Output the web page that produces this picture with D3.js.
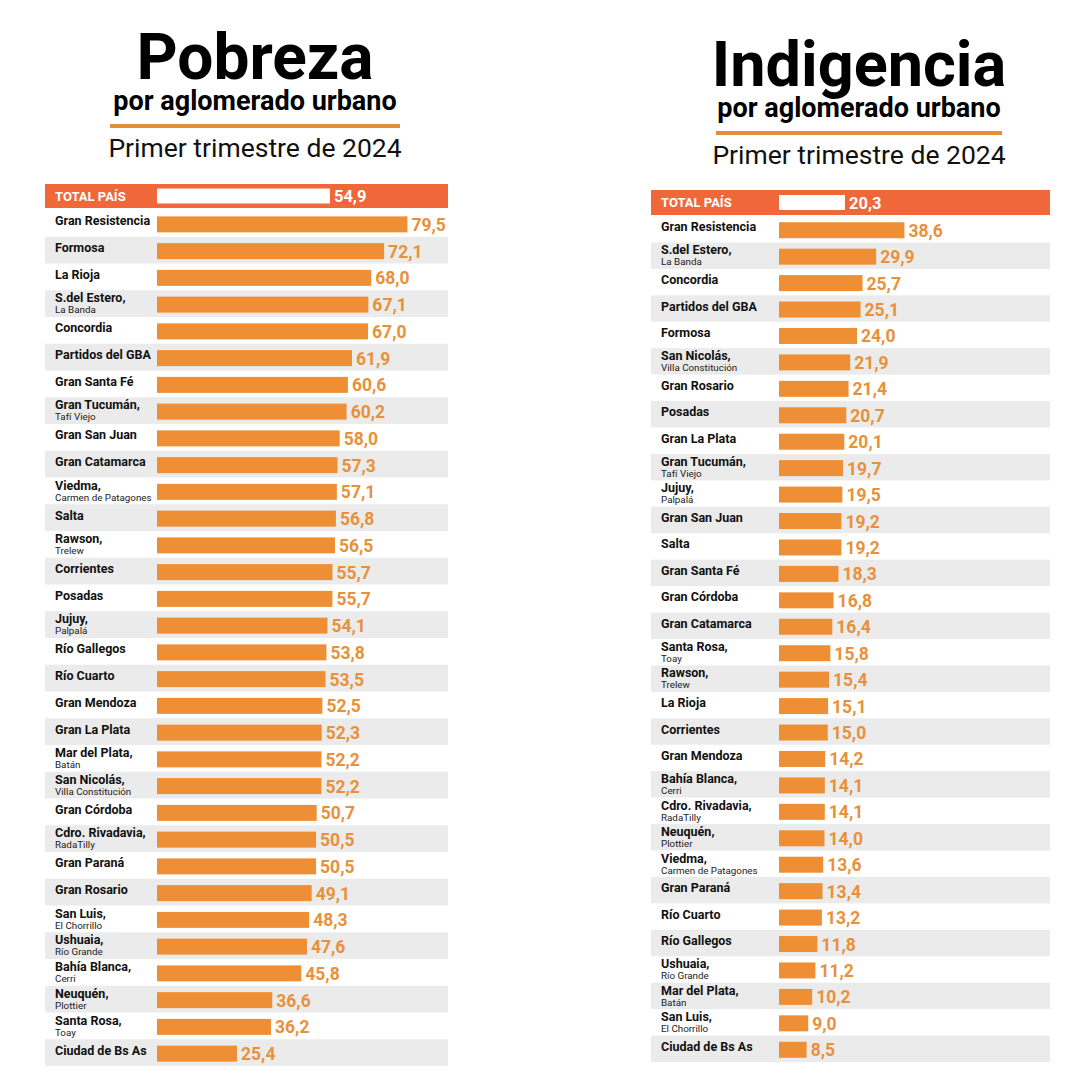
<!DOCTYPE html>
<html>
<head>
<meta charset="utf-8">
<script src="https://cdn.jsdelivr.net/npm/d3@7/dist/d3.min.js"></script>
<style>
  html, body { margin: 0; padding: 0; background: #ffffff; }
  svg { display: block; font-family: Roboto, "Noto Sans", sans-serif; }
</style>
</head>
<body>
<svg id="chart" width="1080" height="1080"></svg>
<script>
// ---------- DATA ----------
const pobrezaTotal = 54.9;
const pobrezaNames = ["Gran Resistencia","Formosa","La Rioja","S.del Estero,","Concordia","Partidos del GBA","Gran Santa Fé","Gran Tucumán,","Gran San Juan","Gran Catamarca","Viedma,","Salta","Rawson,","Corrientes","Posadas","Jujuy,","Río Gallegos","Río Cuarto","Gran Mendoza","Gran La Plata","Mar del Plata,","San Nicolás,","Gran Córdoba","Cdro. Rivadavia,","Gran Paraná","Gran Rosario","San Luis,","Ushuaia,","Bahía Blanca,","Neuquén,","Santa Rosa,","Ciudad de Bs As"];
const pobrezaSub = ["","","","La Banda","","","","Tafí Viejo","","","Carmen de Patagones","","Trelew","","","Palpalá","","","","","Batán","Villa Constitución","","RadaTilly","","","El Chorrillo","Río Grande","Cerri","Plottier","Toay",""];
const pobrezaValues = [79.5,72.1,68.0,67.1,67.0,61.9,60.6,60.2,58.0,57.3,57.1,56.8,56.5,55.7,55.7,54.1,53.8,53.5,52.5,52.3,52.2,52.2,50.7,50.5,50.5,49.1,48.3,47.6,45.8,36.6,36.2,25.4];

const indigenciaTotal = 20.3;
const indigenciaNames = ["Gran Resistencia","S.del Estero,","Concordia","Partidos del GBA","Formosa","San Nicolás,","Gran Rosario","Posadas","Gran La Plata","Gran Tucumán,","Jujuy,","Gran San Juan","Salta","Gran Santa Fé","Gran Córdoba","Gran Catamarca","Santa Rosa,","Rawson,","La Rioja","Corrientes","Gran Mendoza","Bahía Blanca,","Cdro. Rivadavia,","Neuquén,","Viedma,","Gran Paraná","Río Cuarto","Río Gallegos","Ushuaia,","Mar del Plata,","San Luis,","Ciudad de Bs As"];
const indigenciaSub = ["","La Banda","","","","Villa Constitución","","","","Tafí Viejo","Palpalá","","","","","","Toay","Trelew","","","","Cerri","RadaTilly","Plottier","Carmen de Patagones","","","","Río Grande","Batán","El Chorrillo",""];
const indigenciaValues = [38.6,29.9,25.7,25.1,24.0,21.9,21.4,20.7,20.1,19.7,19.5,19.2,19.2,18.3,16.8,16.4,15.8,15.4,15.1,15.0,14.2,14.1,14.1,14.0,13.6,13.4,13.2,11.8,11.2,10.2,9.0,8.5];

const titles = ["Pobreza","Indigencia"];
const subtitle = "por aglomerado urbano";
const period = "Primer trimestre de 2024";
const totalLabel = "TOTAL PAÍS";

// ---------- STYLE ----------
const C = {
  bar: "#ef8f35",
  value: "#e8913a",
  total: "#f0673a",
  stripe: "#ebebeb",
  rule: "#e2913a",
  text: "#111111"
};
const fmt = v => d3.format(".1f")(v).replace(".", ",");

const svg = d3.select("#chart");

function drawPanel(cfg) {
  const g = svg.append("g");
  const cx = (cfg.ruleX0 + cfg.ruleX1) / 2;

  // Titles
  g.append("text").attr("x", cfg.titleX).attr("y", cfg.titleY)
    .attr("text-anchor", "middle").attr("font-size", cfg.titleSize)
    .attr("font-weight", 700).attr("fill", "#000").text(cfg.title);
  g.append("text").attr("x", cx).attr("y", cfg.titleY + 31)
    .attr("text-anchor", "middle").attr("font-size", 27)
    .attr("font-weight", 700).attr("fill", "#000").text(subtitle);
  g.append("rect").attr("x", cfg.ruleX0).attr("y", cfg.titleY + 45)
    .attr("width", cfg.ruleX1 - cfg.ruleX0).attr("height", 4).attr("fill", C.rule);
  g.append("text").attr("x", cx).attr("y", cfg.titleY + 78)
    .attr("text-anchor", "middle").attr("font-size", 26.5)
    .attr("font-weight", 400).attr("fill", "#111").text(period);

  const x = d3.scaleLinear().domain([0, 100]).range([cfg.barX, cfg.barX + cfg.pxPer100]);
  const idx = d3.range(cfg.values.length);
  const y = d3.scaleBand().domain(idx).range([cfg.rowsTop, cfg.rowsBottom]).paddingInner(0);
  const bh = 16;

  // Total row
  g.append("rect").attr("x", cfg.panelX0).attr("y", cfg.totalY)
    .attr("width", cfg.panelX1 - cfg.panelX0).attr("height", cfg.totalH).attr("fill", C.total);
  g.append("rect").attr("x", x(0)).attr("y", cfg.totalY + (cfg.totalH - 15) / 2)
    .attr("width", x(cfg.total) - x(0)).attr("height", 15).attr("fill", "#fff");
  g.append("text").attr("x", cfg.panelX0 + 10).attr("y", cfg.totalY + cfg.totalH / 2 + 4.5)
    .attr("font-size", 13).attr("font-weight", 700).attr("fill", "#fff").text(totalLabel);
  g.append("text").attr("x", x(cfg.total) + 4).attr("y", cfg.totalY + cfg.totalH / 2 + 6)
    .attr("font-size", 16.5).attr("font-weight", 700).attr("fill", "#fff").text(fmt(cfg.total));

  // Stripes
  g.selectAll("rect.stripe").data(idx.filter(i => i % 2 === 1)).join("rect")
    .attr("class", "stripe")
    .attr("x", cfg.panelX0).attr("y", i => y(i))
    .attr("width", cfg.panelX1 - cfg.panelX0).attr("height", y.bandwidth())
    .attr("fill", C.stripe);

  // Bars
  g.selectAll("rect.bar").data(idx).join("rect")
    .attr("class", "bar")
    .attr("x", x(0))
    .attr("y", i => y(i) + (y.bandwidth() - bh) / 2 + 1)
    .attr("width", i => x(cfg.values[i]) - x(0))
    .attr("height", bh)
    .attr("fill", C.bar);

  // Value labels
  g.selectAll("text.val").data(idx).join("text")
    .attr("class", "val")
    .attr("x", i => x(cfg.values[i]) + 4)
    .attr("y", i => y(i) + y.bandwidth() / 2 + 7.5)
    .attr("font-size", 17.5).attr("font-weight", 700).attr("fill", C.value)
    .text(i => fmt(cfg.values[i]));

  // Category labels
  const lab = g.selectAll("g.lab").data(idx).join("g").attr("class", "lab");
  lab.append("text")
    .attr("x", cfg.panelX0 + 10)
    .attr("y", i => cfg.sub[i] ? y(i) + 12 : y(i) + y.bandwidth() / 2 + 2)
    .attr("font-size", 12.5).attr("font-weight", 700).attr("fill", C.text)
    .text(i => cfg.names[i]);
  lab.filter(i => cfg.sub[i]).append("text")
    .attr("x", cfg.panelX0 + 10)
    .attr("y", i => y(i) + 23)
    .attr("font-size", 9.8).attr("font-weight", 400).attr("fill", "#222")
    .text(i => cfg.sub[i]);
}

drawPanel({
  title: titles[0], titleX: 255, titleY: 79, titleSize: 64,
  ruleX0: 110, ruleX1: 400,
  panelX0: 45, panelX1: 448, barX: 157, pxPer100: 315,
  totalY: 184, totalH: 24, total: pobrezaTotal,
  rowsTop: 210, rowsBottom: 1066,
  names: pobrezaNames, sub: pobrezaSub, values: pobrezaValues
});

drawPanel({
  title: titles[1], titleX: 859, titleY: 86, titleSize: 63,
  ruleX0: 716, ruleX1: 1002,
  panelX0: 651, panelX1: 1050, barX: 779, pxPer100: 325,
  totalY: 190, totalH: 25, total: indigenciaTotal,
  rowsTop: 216, rowsBottom: 1062,
  names: indigenciaNames, sub: indigenciaSub, values: indigenciaValues
});
</script>
</body>
</html>
